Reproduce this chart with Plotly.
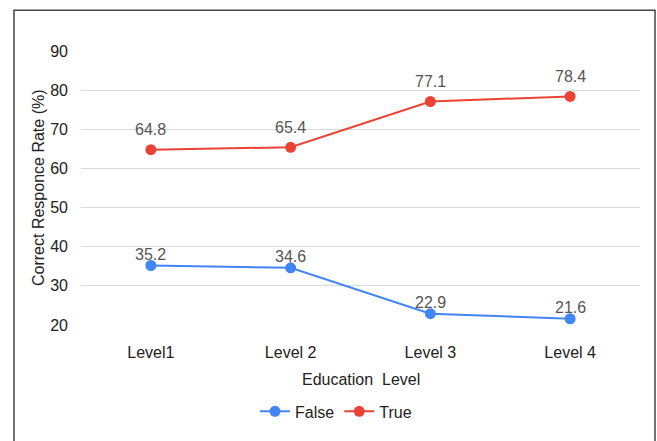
import plotly.graph_objects as go

categories = ["Level1", "Level 2", "Level 3", "Level 4"]
false_vals = [35.2, 34.6, 22.9, 21.6]
true_vals = [64.8, 65.4, 77.1, 78.4]
y_ticks = [20, 30, 40, 50, 60, 70, 80, 90]

FONT = "Liberation Sans, Arial, sans-serif"
FS = 16
BLUE = "#4285F4"
RED = "#EA4335"

fig = go.Figure()
fig.add_trace(go.Scatter(x=categories, y=false_vals, name="False", mode="lines+markers",
                         line=dict(color=BLUE, width=2), marker=dict(size=11, color=BLUE)))
fig.add_trace(go.Scatter(x=categories, y=true_vals, name="True", mode="lines+markers",
                         line=dict(color=RED, width=2), marker=dict(size=11, color=RED)))

annotations = []
for vals, shift in ((false_vals, 11), (true_vals, 20)):
    for c, v in zip(categories, vals):
        annotations.append(dict(x=c, y=v, xref="x", yref="y", text=f"{v:.1f}", showarrow=False,
                                yshift=shift, font=dict(family=FONT, size=FS, color="#555555")))

annotations.append(dict(x=0.5, y=(327 - 382) / 276, xref="paper", yref="paper", text="Education  Level",
                        showarrow=False, xanchor="center", yanchor="middle",
                        font=dict(family=FONT, size=FS, color="#222222")))
annotations.append(dict(x=(38 - 81) / 559, y=0.5, xref="paper", yref="paper", text="Correct Responce Rate (%)",
                        showarrow=False, xanchor="center", yanchor="middle", textangle=-90,
                        font=dict(family=FONT, size=FS, color="#222222")))

fig.update_layout(
    width=657, height=441,
    margin=dict(l=81, r=17, t=51, b=114),
    paper_bgcolor="white", plot_bgcolor="white",
    font=dict(family=FONT, size=FS, color="#222222"),
    showlegend=True,
    legend=dict(orientation="h", x=(336 - 81) / 559, xanchor="center", y=(327 - 414) / 276, yanchor="middle",
                font=dict(family=FONT, size=FS, color="#222222"), itemwidth=30, tracegroupgap=0),
    xaxis=dict(range=[-0.5, 3.5], showgrid=False, showline=False, zeroline=False,
               ticks="", ticklabelstandoff=16, tickfont=dict(family=FONT, size=FS, color="#222222")),
    yaxis=dict(range=[20, 90], tickvals=y_ticks, showgrid=True, gridcolor="#d9d9d9", gridwidth=1,
               showline=False, zeroline=False, ticks="", ticklabelstandoff=12,
               tickfont=dict(family=FONT, size=FS, color="#222222")),
    annotations=annotations,
    shapes=[dict(type="rect", xref="paper", yref="paper",
                 x0=(14 - 81) / 559, x1=(655 - 81) / 559, y0=-0.6, y1=(327 - 10) / 276,
                 line=dict(color="#444444", width=1.5), fillcolor="rgba(0,0,0,0)", layer="below")],
)

fig.write_html("out.html")
